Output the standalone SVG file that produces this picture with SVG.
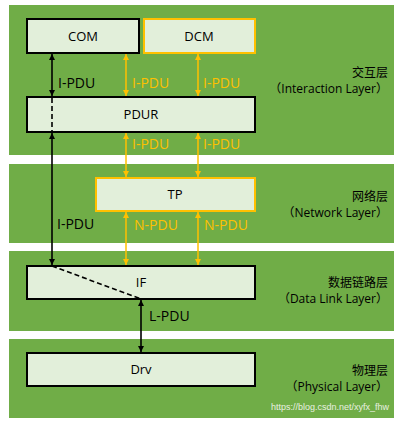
<svg xmlns="http://www.w3.org/2000/svg" width="405" height="429" viewBox="0 0 405 429">
<style>
.band{fill:#70AD47}
.box{fill:#E2EFDA;stroke:#000;stroke-width:2}
.ybox{fill:#E2EFDA;stroke:#FFC000;stroke-width:2}
.t{font-family:"Open Sans","Noto Sans","Noto Sans CJK SC",sans-serif;font-size:13px;fill:#000;text-anchor:middle}
.lb{font-family:"Open Sans","Noto Sans","Noto Sans CJK SC",sans-serif;font-size:14px;fill:#000}
.ly{font-family:"Open Sans","Noto Sans","Noto Sans CJK SC",sans-serif;font-size:14px;fill:#FFC000}
.layer{font-family:"Open Sans","Noto Sans","Noto Sans CJK SC",sans-serif;font-size:12px;fill:#000;text-anchor:end}
.cjk{font-family:"Noto Sans CJK SC",sans-serif;font-size:12px;fill:#000;text-anchor:end}
.bl{stroke:#000;stroke-width:1.6;fill:none}
.yl{stroke:#FFC000;stroke-width:1.5;fill:none}
</style>
<defs>
<marker id="ab" viewBox="0 0 10 10" refX="10" refY="5" markerWidth="4" markerHeight="4" orient="auto-start-reverse"><path d="M0,0 L10,5 L0,10 z" fill="#000"/></marker>
<marker id="ay" viewBox="0 0 10 10" refX="10" refY="5" markerWidth="4" markerHeight="4" orient="auto-start-reverse"><path d="M0,0 L10,5 L0,10 z" fill="#FFC000"/></marker>
</defs>
<rect width="405" height="429" fill="#fff"/>
<g id="layers">
<rect class="band" x="9" y="5" width="385" height="150"/>
<rect class="band" x="9" y="164" width="385" height="79"/>
<rect class="band" x="9" y="251" width="385" height="80"/>
<rect class="band" x="9" y="339" width="385" height="79"/>
<text class="cjk" x="388" y="76.5">交互层</text>
<text class="layer" x="388" y="93">（Interaction Layer）</text>
<text class="cjk" x="388" y="200.5">网络层</text>
<text class="layer" x="388" y="217">（Network Layer）</text>
<text class="cjk" x="388" y="286.5">数据链路层</text>
<text class="layer" x="388" y="303">（Data Link Layer）</text>
<text class="cjk" x="388" y="374.5">物理层</text>
<text class="layer" x="388" y="391">（Physical Layer）</text>
<text x="389" y="410" font-family="'Liberation Sans',sans-serif" font-size="9" fill="#E8F0E0" text-anchor="end">https://blog.csdn.net/xyfx_fhw</text>
</g>
<g id="COM"><rect class="box" x="27" y="19" width="112" height="34"/><text class="t" x="83" y="41">COM</text></g>
<g id="DCM"><rect class="ybox" x="144" y="19" width="111" height="34"/><text class="t" x="199" y="41">DCM</text></g>
<g id="PDUR"><rect class="box" x="27" y="97" width="228" height="35"/><text class="t" x="141" y="119">PDUR</text></g>
<g id="TP"><rect class="ybox" x="96" y="178" width="159" height="33"/><text class="t" x="175" y="199">TP</text></g>
<g id="IF"><rect class="box" x="27" y="266" width="228" height="33"/><text class="t" x="141" y="287">IF</text></g>
<g id="Drv"><rect class="box" x="27" y="353" width="228" height="33"/><text class="t" x="141" y="374">Drv</text></g>
<g id="connectors">
<line class="bl" x1="52" y1="54" x2="52" y2="96" marker-start="url(#ab)" marker-end="url(#ab)"/>
<line class="bl" x1="52" y1="98" x2="52" y2="132" stroke-dasharray="5,3"/>
<line class="bl" x1="52" y1="133" x2="52" y2="265" marker-start="url(#ab)" marker-end="url(#ab)"/>
<line class="bl" x1="52" y1="266" x2="141" y2="299" stroke-dasharray="5,3"/>
<line class="bl" x1="141" y1="300" x2="141" y2="352" marker-start="url(#ab)" marker-end="url(#ab)"/>
<line class="yl" x1="126" y1="54" x2="126" y2="96" marker-start="url(#ay)" marker-end="url(#ay)"/>
<line class="yl" x1="198" y1="54" x2="198" y2="96" marker-start="url(#ay)" marker-end="url(#ay)"/>
<line class="yl" x1="126" y1="133" x2="126" y2="177" marker-start="url(#ay)" marker-end="url(#ay)"/>
<line class="yl" x1="198" y1="133" x2="198" y2="177" marker-start="url(#ay)" marker-end="url(#ay)"/>
<line class="yl" x1="126" y1="212" x2="126" y2="265" marker-start="url(#ay)" marker-end="url(#ay)"/>
<line class="yl" x1="198" y1="212" x2="198" y2="265" marker-start="url(#ay)" marker-end="url(#ay)"/>
<text class="lb" x="58" y="88">I-PDU</text>
<text class="ly" x="132" y="88">I-PDU</text>
<text class="ly" x="203" y="88">I-PDU</text>
<text class="ly" x="132" y="149">I-PDU</text>
<text class="ly" x="203" y="149">I-PDU</text>
<text class="lb" x="57" y="229">I-PDU</text>
<text class="ly" x="134" y="230">N-PDU</text>
<text class="ly" x="204" y="230">N-PDU</text>
<text class="lb" x="149" y="321">L-PDU</text>
</g>
</svg>
